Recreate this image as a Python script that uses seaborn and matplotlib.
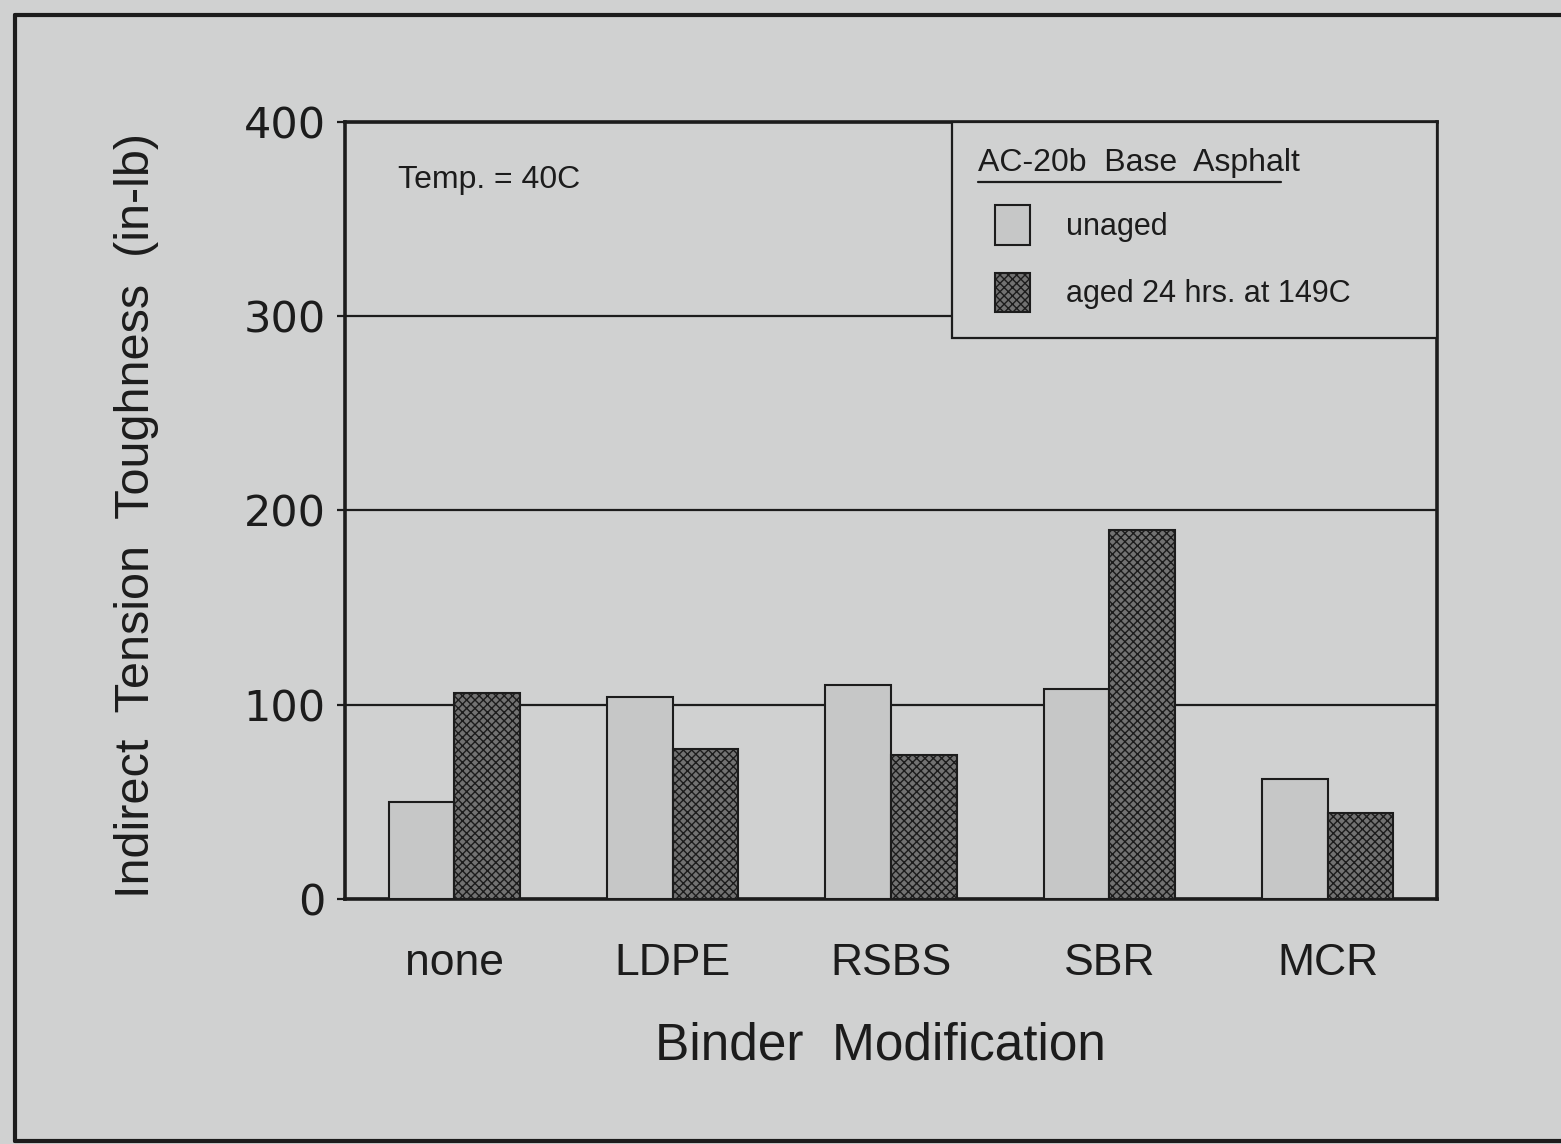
import matplotlib
matplotlib.use("Agg")
import matplotlib.pyplot as plt
from matplotlib.patches import Patch, Rectangle
from matplotlib.lines import Line2D
from matplotlib.legend_handler import HandlerPatch
import pandas as pd
import seaborn as sns

# Indirect tension toughness at 40C, by binder modification
modifications = ["none", "LDPE", "RSBS", "SBR", "MCR"]
unaged = [50, 104, 110, 108, 62]
aged = [106, 77, 74, 190, 44]
conditions = ["unaged", "aged 24 hrs. at 149C"]
y_ticks = [0, 100, 200, 300, 400]

df = pd.DataFrame({
    "modification": modifications * 2,
    "toughness": unaged + aged,
    "condition": [conditions[0]] * len(unaged) + [conditions[1]] * len(aged),
})

sns.set_theme(style="white")
plt.rcParams["font.family"] = ["Liberation Sans", "DejaVu Sans"]

BG = "#d0d1d1"
INK = "#1c1c1c"
LIGHT = "#c6c7c7"
DARK = "#727272"
AGED_HATCH = "xxxx"

fig = plt.figure(figsize=(15.61, 11.44), dpi=100, facecolor=BG)
ax = fig.add_axes([0.221, 0.2142, 0.6996, 0.6792])
ax.set_facecolor(BG)

sns.barplot(
    data=df, x="modification", y="toughness", hue="condition",
    order=modifications, hue_order=conditions, palette=[LIGHT, DARK],
    width=0.6, gap=0, saturation=1, edgecolor=INK, linewidth=1.5,
    legend=False, ax=ax, zorder=3,
)
for bar in ax.containers[1]:
    bar.set_hatch(AGED_HATCH)

ax.set_xlim(-0.5, 4.5)
ax.set_ylim(0, 400)
ax.set_yticks(y_ticks)

# horizontal reference lines behind the bars
ax.yaxis.grid(True, color=INK, linewidth=1.6)
ax.xaxis.grid(False)
ax.set_axisbelow(True)

for side in ["left", "right", "top", "bottom"]:
    ax.spines[side].set_visible(True)
    ax.spines[side].set_color(INK)
    ax.spines[side].set_linewidth(2.6)

ax.tick_params(axis="y", left=True, direction="out", length=6, width=1.6,
               color=INK, pad=8, labelsize=31, labelcolor=INK)
ax.tick_params(axis="x", bottom=False, length=0, pad=32, labelsize=32,
               labelcolor=INK)
for lbl in ax.get_yticklabels():
    lbl.set_fontfamily("DejaVu Sans")

ax.set_xlabel("Binder  Modification", fontsize=37, color=INK)
ax.set_ylabel("Indirect  Tension  Toughness  (in-lb)", fontsize=35, color=INK)
ax.xaxis.set_label_coords(0.49, -0.158)
ax.yaxis.set_label_coords(-0.17, 0.494)

ax.text(0.0485, 0.925, "Temp. = 40C", transform=ax.transAxes,
        fontsize=23, va="center", ha="left", color=INK)


def inset_swatch(legend, orig_handle, xdescent, ydescent, width, height,
                 fontsize):
    # legend swatch indented from the title's left edge
    shift = 12
    return Rectangle((-xdescent + shift, -ydescent), width - shift, height)


handles = [
    Patch(facecolor=LIGHT, edgecolor=INK, linewidth=1.5, label=conditions[0]),
    Patch(facecolor=DARK, edgecolor=INK, linewidth=1.5, hatch=AGED_HATCH,
          label=conditions[1]),
]
swatch = HandlerPatch(patch_func=inset_swatch)
leg = ax.legend(
    handles=handles, title="AC-20b  Base  Asphalt",
    handler_map={Patch: swatch},
    loc="upper left", bbox_to_anchor=(0.556, 0.0, 0.444, 1.0), mode="expand",
    borderaxespad=0, fontsize=22, title_fontsize=23, alignment="left",
    frameon=True, fancybox=False, framealpha=1, facecolor=BG, edgecolor=INK,
    handlelength=1.7, handleheight=1.62, handletextpad=1.18,
    labelspacing=0.9, borderpad=0.85,
)
leg.get_frame().set_linewidth(1.6)
leg.set_zorder(5)
for t in leg.get_texts():
    t.set_color(INK)
leg.get_title().set_color(INK)

# underline the legend title
fig.canvas.draw()
tb = leg.get_title().get_window_extent().transformed(fig.transFigure.inverted())
uy = tb.y0 - 0.004
fig.add_artist(Line2D([tb.x0, tb.x1 - 0.012], [uy, uy], color=INK,
                      linewidth=1.6, transform=fig.transFigure, zorder=6))

# page frame around the figure
fx, ftop, fbot = 15 / 1561, 1 - 15 / 1144, 1 - 1141 / 1144
for xs, ys in [([fx, fx], [fbot, ftop]), ([fx, 1.0], [ftop, ftop]),
               ([fx, 1.0], [fbot, fbot])]:
    fig.add_artist(Line2D(xs, ys, color=INK, linewidth=3,
                          transform=fig.transFigure))

fig.savefig("out.png", dpi=100, facecolor=BG)
